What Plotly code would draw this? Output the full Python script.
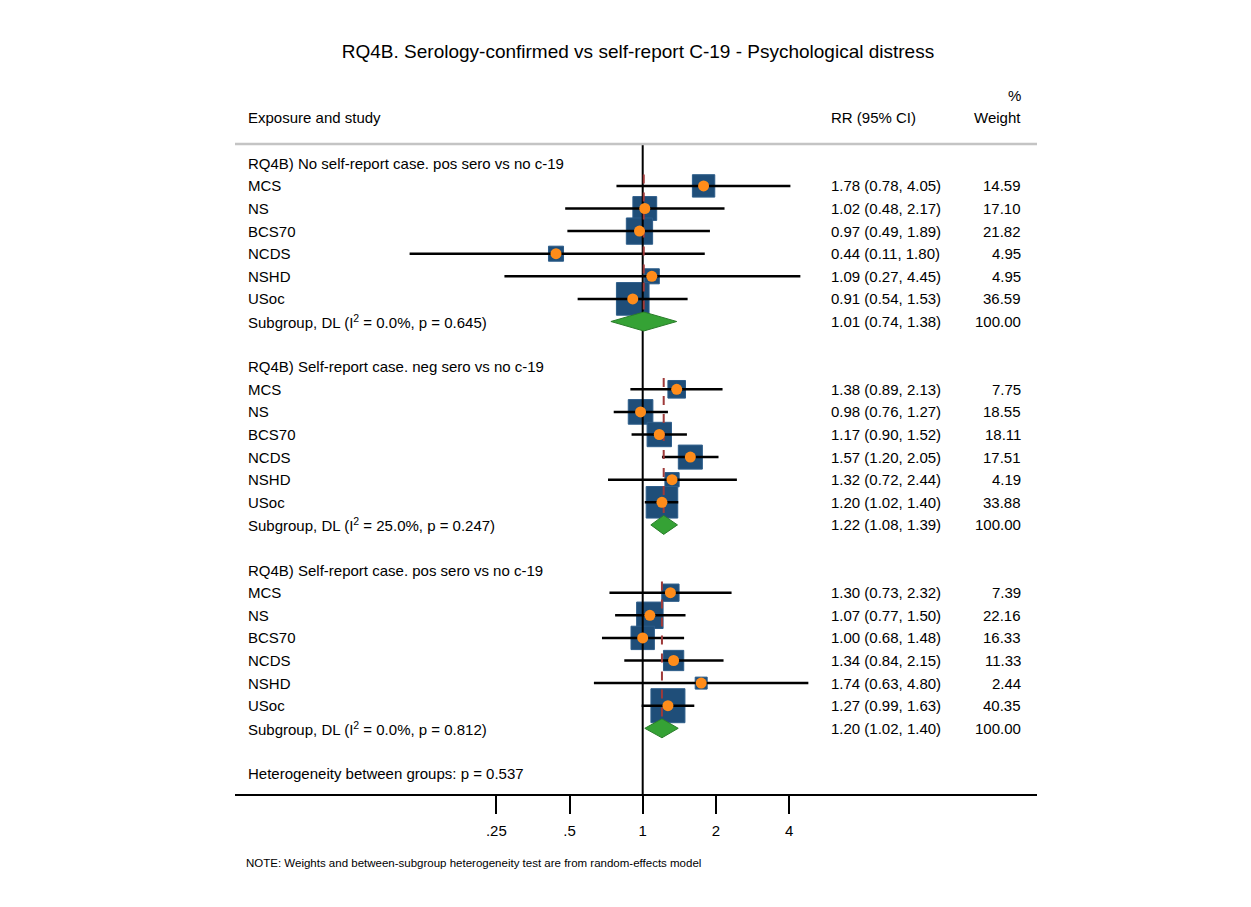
import numpy as np
import plotly.graph_objects as go

# ---------------- data ----------------
title = "RQ4B. Serology-confirmed vs self-report C-19 - Psychological distress"
group_labels = [
    "RQ4B) No self-report case. pos sero vs no c-19",
    "RQ4B) Self-report case. neg sero vs no c-19",
    "RQ4B) Self-report case. pos sero vs no c-19",
]
studies = ["MCS", "NS", "BCS70", "NCDS", "NSHD", "USoc"]

rr_g1 = [1.78, 1.02, 0.97, 0.44, 1.09, 0.91]
lo_g1 = [0.78, 0.48, 0.49, 0.11, 0.27, 0.54]
hi_g1 = [4.05, 2.17, 1.89, 1.80, 4.45, 1.53]
wt_g1 = [14.59, 17.10, 21.82, 4.95, 4.95, 36.59]

rr_g2 = [1.38, 0.98, 1.17, 1.57, 1.32, 1.20]
lo_g2 = [0.89, 0.76, 0.90, 1.20, 0.72, 1.02]
hi_g2 = [2.13, 1.27, 1.52, 2.05, 2.44, 1.40]
wt_g2 = [7.75, 18.55, 18.11, 17.51, 4.19, 33.88]

rr_g3 = [1.30, 1.07, 1.00, 1.34, 1.74, 1.27]
lo_g3 = [0.73, 0.77, 0.68, 0.84, 0.63, 0.99]
hi_g3 = [2.32, 1.50, 1.48, 2.15, 4.80, 1.63]
wt_g3 = [7.39, 22.16, 16.33, 11.33, 2.44, 40.35]

sub_rr = [1.01, 1.22, 1.20]
sub_lo = [0.74, 1.08, 1.02]
sub_hi = [1.38, 1.39, 1.40]
sub_i2 = ["0.0", "25.0", "0.0"]
sub_p = ["0.645", "0.247", "0.812"]

het_text = "Heterogeneity between groups: p = 0.537"
note_text = "NOTE: Weights and between-subgroup heterogeneity test are from random-effects model"

tick_vals = [0.25, 0.5, 1, 2, 4]
tick_text = [".25", ".5", "1", "2", "4"]

# ---------------- layout geometry ----------------
OFF = 8                     # page body margin
W, H = 1251 - OFF, 907 - OFF
L, R = 235 - OFF, 1037 - OFF      # plot area pixel edges (figure coords)
T, B = 144 - OFF, 794 - OFF
row0_px, row_step = 163.3 - OFF, 22.6
one_px, oct_px = 642.7 - OFF, 73.2
x_lo_log = (L - one_px) / oct_px * np.log10(2)
x_hi_log = (R - one_px) / oct_px * np.log10(2)
y_top = (T - row0_px) / row_step
y_bot = (B - row0_px) / row_step

FONT = "Liberation Sans, Arial, Helvetica, sans-serif"
FS = 15
SQ = "#1f4e79"
DOT = "#ff8c1a"
DIA_FILL = "#35a235"
DIA_LINE = "#2a7d2a"
DASH = "#9e3a3a"

def px_x(px):  # reference-page pixel -> paper
    return (px - OFF - L) / (R - L)

def px_y(py):
    return (B - (py - OFF)) / (B - T)

fig = go.Figure()

rr_all = [rr_g1, rr_g2, rr_g3]
lo_all = [lo_g1, lo_g2, lo_g3]
hi_all = [hi_g1, hi_g2, hi_g3]
wt_all = [wt_g1, wt_g2, wt_g3]

annotations = []

def add_text(text, xpx, row, anchor="left", size=FS):
    annotations.append(dict(text=text, x=px_x(xpx), xref="paper", y=row, yref="y",
                            xanchor=anchor, yanchor="middle", showarrow=False,
                            font=dict(size=size, color="black", family=FONT)))

# squares first
for g in range(3):
    base = 9 * g
    rows = [base + 1 + i for i in range(6)]
    sizes = [4.8 + 4.6 * np.sqrt(w) for w in wt_all[g]]
    fig.add_trace(go.Scatter(x=rr_all[g], y=rows, mode="markers",
                             marker=dict(symbol="square", size=sizes, color=SQ, opacity=1,
                                         line=dict(width=1, color="#2d5d8a")),
                             hoverinfo="skip", showlegend=False, cliponaxis=False))

# CI lines
for g in range(3):
    base = 9 * g
    xs, ys = [], []
    for i in range(6):
        r = base + 1 + i
        xs += [lo_all[g][i], hi_all[g][i], None]
        ys += [r, r, None]
    fig.add_trace(go.Scatter(x=xs, y=ys, mode="lines", line=dict(color="black", width=2.5),
                             hoverinfo="skip", showlegend=False))

# reference line at 1
fig.add_trace(go.Scatter(x=[1, 1], y=[y_top, y_bot], mode="lines",
                         line=dict(color="black", width=2), hoverinfo="skip",
                         showlegend=False, cliponaxis=False))

# dashed subgroup lines and diamonds
for g in range(3):
    base = 9 * g
    fig.add_trace(go.Scatter(x=[sub_rr[g], sub_rr[g]], y=[base + 0.5, base + 7.5], mode="lines",
                             line=dict(color=DASH, width=2, dash="dash"),
                             hoverinfo="skip", showlegend=False))
    r = base + 7
    h = 0.42
    fig.add_trace(go.Scatter(x=[sub_lo[g], sub_rr[g], sub_hi[g], sub_rr[g], sub_lo[g]],
                             y=[r, r - h, r, r + h, r], mode="lines", fill="toself",
                             fillcolor=DIA_FILL, line=dict(color=DIA_LINE, width=1),
                             hoverinfo="skip", showlegend=False))

# point estimate dots
for g in range(3):
    base = 9 * g
    rows = [base + 1 + i for i in range(6)]
    fig.add_trace(go.Scatter(x=rr_all[g], y=rows, mode="markers",
                             marker=dict(symbol="circle", size=11, color=DOT, opacity=1),
                             hoverinfo="skip", showlegend=False))

# text columns
for g in range(3):
    base = 9 * g
    add_text(group_labels[g], 246, base)
    for i, s in enumerate(studies):
        r = base + 1 + i
        add_text(s, 246, r)
        add_text(f"{rr_all[g][i]:.2f} ({lo_all[g][i]:.2f}, {hi_all[g][i]:.2f})", 829, r)
        add_text(f"{wt_all[g][i]:.2f}", 1023, r, anchor="right")
    r = base + 7
    add_text(f"Subgroup, DL (I<sup>2</sup> = {sub_i2[g]}%, p = {sub_p[g]})", 246, r)
    add_text(f"{sub_rr[g]:.2f} ({sub_lo[g]:.2f}, {sub_hi[g]:.2f})", 829, r)
    add_text("100.00", 1023, r, anchor="right")
add_text(het_text, 246, 27)

# headers
def add_paper_text(text, xpx, ypx, anchor="left", size=FS):
    annotations.append(dict(text=text, x=px_x(xpx), xref="paper", y=px_y(ypx), yref="paper",
                            xanchor=anchor, yanchor="middle", showarrow=False,
                            font=dict(size=size, color="black", family=FONT)))

add_paper_text("Exposure and study", 246, 117)
add_paper_text("RR (95% CI)", 829, 117)
add_paper_text("%", 1023, 95, anchor="right")
add_paper_text("Weight", 1023, 117, anchor="right")
add_paper_text(note_text, 244, 863, size=11.5)

shapes = [
    dict(type="line", xref="paper", yref="paper", x0=0, x1=1, y0=1, y1=1,
         line=dict(color="#c4c4c4", width=2.5)),
]

fig.update_layout(
    width=W, height=H,
    margin=dict(l=L, r=W - R, t=T, b=H - B, pad=0),
    paper_bgcolor="white", plot_bgcolor="white",
    title=dict(text=title, x=(638 - OFF) / W, xanchor="center", y=1 - (51 - OFF) / H, yanchor="middle",
               font=dict(size=19, color="black", family=FONT)),
    xaxis=dict(type="log", range=[x_lo_log, x_hi_log], tickvals=tick_vals, ticktext=tick_text,
               showgrid=False, zeroline=False, showline=True, linecolor="black", linewidth=2,
               ticks="outside", ticklen=18, tickwidth=2, tickcolor="black",
               ticklabelstandoff=4,
               tickfont=dict(size=15, color="black", family=FONT)),
    yaxis=dict(range=[y_bot, y_top], visible=False, showgrid=False, zeroline=False),
    annotations=annotations,
    shapes=shapes,
    showlegend=False,
)

fig.write_html("out.html")
